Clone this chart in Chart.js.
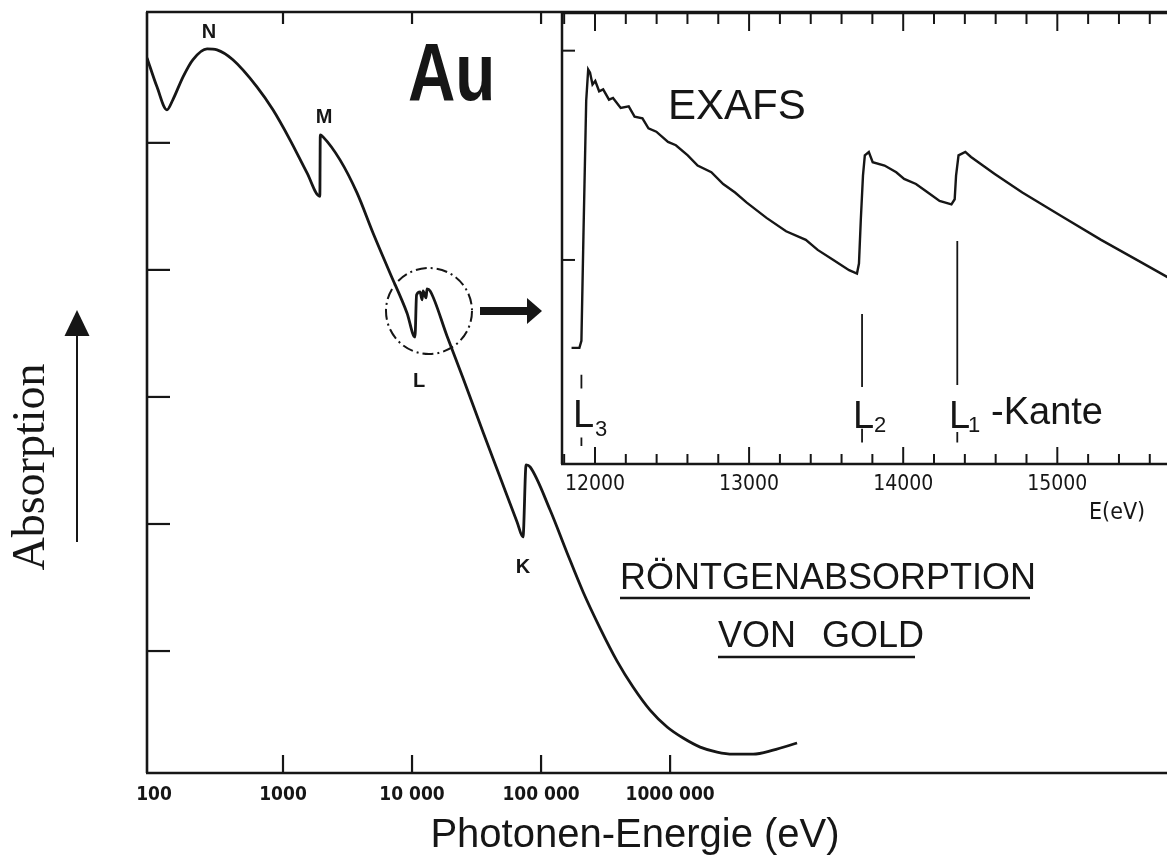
<!DOCTYPE html>
<html><head><meta charset="utf-8">
<script src="https://cdn.jsdelivr.net/npm/chart.js@4.4.1/dist/chart.umd.min.js"></script>
<style>
html,body{margin:0;padding:0;background:#fff;overflow:hidden;width:1167px;height:863px}
#wrap{position:relative;width:1167px;height:863px;overflow:hidden;background:#fff}
#main{position:absolute;left:0;top:0;width:1190px;height:863px}
#inset{position:absolute;left:540px;top:0;width:650px;height:530px}
</style></head><body>
<div id="wrap">
<canvas id="main" width="1190" height="863"></canvas>
<canvas id="inset" width="650" height="530"></canvas>
</div>
<script>
// main curve: photon energy (eV) -> absorption (arb. units)
const mainE=[88.3,105.5,126,140,168,200,258,308,409,628,836,1133,1535,1930,1945,2043,2766,3747,4986,6745,9141,10540,10840,11530,11960,12170,12850,13060,13800,18660,24830,35480,48080,65160,72440,76560,82220,117500,159200,211800,286400,388200,516400,699800,948400,1262000,1710000,2312000,3076000,4395000,6281000,9638000];
const mainV=[5.669,5.441,5.260,5.339,5.520,5.654,5.740,5.732,5.654,5.441,5.260,5.024,4.764,4.579,5.063,5.047,4.866,4.606,4.291,3.976,3.661,3.472,3.803,3.827,3.764,3.835,3.780,3.850,3.835,3.480,3.150,2.724,2.370,2.016,1.898,2.465,2.449,2.110,1.772,1.465,1.181,0.921,0.717,0.535,0.402,0.315,0.244,0.205,0.189,0.189,0.220,0.276];
const mainTicks=[100,1000,10000,100000,1000000];
const mainTickLabels=['100','1000','10 000','100 000','1000 000'];
const mainTopTicks=[1000,10000,100000];
const mainYTicks=[1,2,3,4,5];

// inset: L-edge region, linear energy scale
const insetE=[11848,11899,11912,11925,11943,11956,11968,11984,12002,12027,12053,12091,12117,12167,12219,12257,12308,12347,12398,12474,12525,12602,12666,12755,12832,12909,12985,13113,13240,13368,13445,13547,13649,13700,13713,13725,13739,13751,13777,13802,13879,13955,14006,14083,14160,14236,14313,14334,14343,14359,14403,14440,14517,14594,14773,15028,15284,15539,15712,15860];
const insetV=[0.580,0.580,0.613,1.112,1.760,1.910,1.895,1.838,1.855,1.806,1.815,1.766,1.774,1.726,1.734,1.685,1.677,1.629,1.613,1.564,1.548,1.500,1.451,1.419,1.363,1.322,1.274,1.201,1.137,1.096,1.048,1.000,0.951,0.935,0.983,1.193,1.403,1.500,1.516,1.467,1.451,1.419,1.387,1.363,1.322,1.282,1.266,1.290,1.403,1.500,1.516,1.492,1.451,1.411,1.322,1.209,1.096,0.991,0.919,0.855];
const insetTicks=[12000,13000,14000,15000];
const insetYTicks=[1,2];
// edge markers: [energy, top, bottom]
const edgeMarks=[[11912,0.451,0.386],[11912,0.152,0.111],[13733,0.742,0.393],[13733,0.193,0.128],[14351,1.091,0.403],[14351,0.178,0.128]];

const ink='#161616';
const SANS='"Liberation Sans",Arial,sans-serif';
const COND='"DejaVu Sans Condensed","Liberation Sans Narrow","Liberation Sans",sans-serif';

function line(ctx,x1,y1,x2,y2){ctx.beginPath();ctx.moveTo(x1,y1);ctx.lineTo(x2,y2);ctx.stroke();}

const mainDeco={id:'mainDeco',afterDraw(chart){
  const ctx=chart.ctx,a=chart.chartArea,x=chart.scales.x,y=chart.scales.y;
  ctx.save();
  ctx.strokeStyle=ink;ctx.fillStyle=ink;ctx.lineWidth=2.6;
  // frame
  line(ctx,a.left,a.top,a.left,a.bottom);
  line(ctx,a.left-1,a.top,a.right,a.top);
  line(ctx,a.left-1,a.bottom,a.right,a.bottom);
  ctx.lineWidth=2.2;
  mainYTicks.forEach(v=>{const p=y.getPixelForValue(v);line(ctx,a.left,p,a.left+23,p);});
  mainTopTicks.forEach(v=>{const p=x.getPixelForValue(v);line(ctx,p,a.top,p,a.top+12);});
  mainTicks.slice(1).forEach(v=>{const p=x.getPixelForValue(v);line(ctx,p,a.bottom,p,a.bottom-18);});
  // edge letters
  ctx.font='600 20px '+SANS;ctx.textAlign='center';ctx.textBaseline='alphabetic';
  ctx.fillText('N',209,38);ctx.fillText('M',324,123);ctx.fillText('L',419,387);ctx.fillText('K',523,573);
  // Au
  ctx.save();ctx.translate(408,100);ctx.scale(0.8,1);ctx.font='bold 82px '+SANS;ctx.textAlign='left';ctx.fillText('Au',0,0);ctx.restore();
  // title
  ctx.font='36px '+SANS;ctx.textAlign='left';
  ctx.fillText('RÖNTGENABSORPTION',620,589);
  ctx.fillText('VON',718,647);ctx.fillText('GOLD',822,647);
  ctx.lineWidth=2.6;line(ctx,620,598,1030,598);line(ctx,718,657,915,657);
  // axis title
  ctx.font='40px '+SANS;ctx.textAlign='center';ctx.fillText('Photonen-Energie (eV)',635,847);
  ctx.save();ctx.translate(44,467);ctx.rotate(-Math.PI/2);ctx.font='46px "Liberation Serif","Times New Roman",serif';ctx.fillText('Absorption',0,0);ctx.restore();
  // up arrow
  ctx.lineWidth=2;line(ctx,77,542,77,333);
  ctx.beginPath();ctx.moveTo(77,310);ctx.lineTo(89.5,336);ctx.lineTo(64.5,336);ctx.closePath();ctx.fill();
  // dash-dot circle round the L edges
  ctx.lineWidth=2;ctx.setLineDash([11,4,2,4]);
  ctx.beginPath();ctx.arc(429,311,43,0,Math.PI*2);ctx.stroke();ctx.setLineDash([]);
  // arrow to the inset
  ctx.fillRect(480,307,48,8);
  ctx.beginPath();ctx.moveTo(527,298);ctx.lineTo(542,311);ctx.lineTo(527,324);ctx.closePath();ctx.fill();
  ctx.restore();
}};

new Chart(document.getElementById('main'),{
  type:'line',
  data:{datasets:[{data:mainE.map((e,i)=>({x:e,y:mainV[i]})),borderColor:ink,borderWidth:2.8,pointRadius:0,cubicInterpolationMode:'monotone',fill:false}]},
  options:{responsive:false,animation:false,devicePixelRatio:1,
    layout:{padding:{left:147,top:12,right:0,bottom:0}},
    plugins:{legend:{display:false},tooltip:{enabled:false}},
    scales:{
      x:{type:'logarithmic',min:88.3,max:1.07e10,grid:{display:false},border:{display:false},
        afterBuildTicks:s=>{s.ticks=mainTicks.map(v=>({value:v}));},
        afterFit:s=>{s.height=90;},
        ticks:{autoSkip:false,maxRotation:0,minRotation:0,padding:3,color:ink,
          font:{family:COND,size:19,weight:'bold'},callback:(v,i)=>mainTickLabels[i]}},
      y:{display:false,min:0.04,max:6.03}
    }},
  plugins:[mainDeco]
});

const insetDeco={id:'insetDeco',afterDraw(chart){
  const ctx=chart.ctx,a=chart.chartArea,x=chart.scales.x,y=chart.scales.y;
  ctx.save();
  ctx.strokeStyle=ink;ctx.fillStyle=ink;ctx.lineWidth=2.5;
  line(ctx,a.left,a.top,a.left,a.bottom);
  line(ctx,a.left-1,a.top,a.right,a.top);
  line(ctx,a.left-1,a.bottom,a.right,a.bottom);
  ctx.lineWidth=2;
  for(let e=11800;e<=15800;e+=200){
    const p=x.getPixelForValue(e),major=e%1000===0;
    line(ctx,p,a.top,p,a.top+(major?18:11));
    line(ctx,p,a.bottom,p,a.bottom-(major?17:10));
  }
  insetYTicks.forEach(v=>{const p=y.getPixelForValue(v);line(ctx,a.left,p,a.left+13,p);});
  // labels
  ctx.textAlign='left';ctx.textBaseline='alphabetic';
  ctx.font='42px '+SANS;ctx.fillText('EXAFS',668-540,119);
  ctx.font='38px '+SANS;
  ctx.fillText('L',573-540,427);ctx.fillText('L',853-540,428);ctx.fillText('L',949-540,428);
  ctx.fillText('-Kante',991-540,424);
  ctx.font='22px '+SANS;
  ctx.fillText('3',595-540,436);ctx.fillText('2',874-540,432);ctx.fillText('1',968-540,432);
  ctx.font='23px '+COND;ctx.fillText('E(eV)',1089-540,519);
  ctx.restore();
}};

const markData=[];
edgeMarks.forEach(m=>{markData.push({x:m[0],y:m[1]},{x:m[0],y:m[2]},{x:m[0],y:null});});

new Chart(document.getElementById('inset'),{
  type:'line',
  data:{datasets:[
    {data:insetE.map((e,i)=>({x:e,y:insetV[i]})),borderColor:ink,borderWidth:2.4,pointRadius:0,tension:0,fill:false},
    {data:markData,borderColor:ink,borderWidth:1.8,pointRadius:0,spanGaps:false,fill:false}
  ]},
  options:{responsive:false,animation:false,devicePixelRatio:1,
    layout:{padding:{left:22,top:13,right:0,bottom:0}},
    plugins:{legend:{display:false},tooltip:{enabled:false}},
    scales:{
      x:{type:'linear',min:11786,max:15861,grid:{display:false},border:{display:false},
        afterBuildTicks:s=>{s.ticks=insetTicks.map(v=>({value:v}));},
        afterFit:s=>{s.height=66;},
        ticks:{autoSkip:false,maxRotation:0,minRotation:0,padding:0,color:ink,
          font:{family:COND,size:21},callback:v=>String(v)}},
      y:{display:false,min:0.025,max:2.18}
    }},
  plugins:[insetDeco]
});
</script>
</body></html>
